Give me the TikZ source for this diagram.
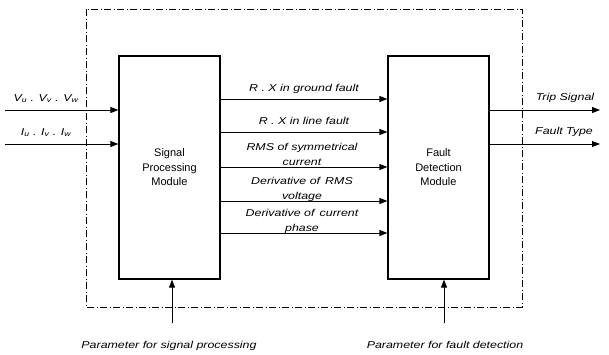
\documentclass[tikz,border=0pt]{standalone}
\usepackage{fontspec}
\setmainfont{Liberation Sans}
\newfontfamily\lblfont[FakeStretch=1.24]{Liberation Sans}
\usetikzlibrary{arrows.meta}
\tikzset{
  module/.style={draw, line width=1.2pt, minimum width=101pt, minimum height=223pt,
    align=center, font=\fontsize{11}{14.5}\selectfont, inner sep=0pt},
  arr/.style={line width=0.9pt, -{Triangle[length=8pt,width=6pt]}},
  frame/.style={line width=0.9pt, dash pattern=on 7pt off 2.5pt on 1pt off 2.5pt},
  lbl/.style={font=\lblfont\itshape\fontsize{10}{15}\selectfont, inner sep=0pt, align=center},
  lbltwo/.style={lbl, anchor=south, text depth=0pt},
}
\begin{document}
\begin{tikzpicture}[x=1pt,y=-1pt]
\useasboundingbox (0,0) rectangle (609,354);

% enclosing system boundary
\draw[frame] (86,9) rectangle (522,307);

% the two modules
\node[module] (spm) at (169.5,167.5) {Signal\\Processing\\Module};
\node[module] (fdm) at (438.5,167.5) {Fault\\Detection\\Module};

% measured inputs
\coordinate (vin) at (5,110);
\coordinate (iin) at (5,144);
\draw[arr] (vin) -- (vin -| spm.west);
\draw[arr] (iin) -- (iin -| spm.west);
\node[lbl, anchor=base] (vlab) at (46,101) {V\textsubscript{u} . V\textsubscript{v} . V\textsubscript{w}};
\node[lbl, anchor=base] (ilab) at (46,135) {I\textsubscript{u} . I\textsubscript{v} . I\textsubscript{w}};

% features passed between the modules
\foreach \yy/\nm in {99/a,132/b,167/c,201/d,233/e}{
  \coordinate (s\nm) at (spm.east |- 0,\yy);
  \draw[arr] (s\nm) -- (s\nm -| fdm.west);
}
\node[lbl, anchor=base] (la) at (304,91) {R . X in ground fault};
\node[lbl, anchor=base] (lb) at (304,124) {R . X in line fault};
\node[lbltwo] (lc) at (302,166) {RMS of symmetrical\\current};
\node[lbltwo] (ld) at (302,200) {Derivative of\, RMS\\voltage};
\node[lbltwo] (le) at (302,232) {Derivative of\, current\\phase};

% outputs
\coordinate (tout) at (600,110);
\coordinate (fout) at (600,144);
\draw[arr] (fdm.east |- tout) -- (tout);
\draw[arr] (fdm.east |- fout) -- (fout);
\node[lbl, anchor=base] (tlab) at (565,100) {Trip Signal};
\node[lbl, anchor=base] (flab) at (564,134) {Fault Type};

% parameter inputs
\coordinate (psp) at (172,323);
\coordinate (pfd) at (444,323);
\draw[arr] (psp) -- (psp |- spm.south);
\draw[arr] (pfd) -- (pfd |- fdm.south);
\node[lbl, anchor=base] (plab1) at (169,348) {Parameter for signal processing};
\node[lbl, anchor=base] (plab2) at (445,348) {Parameter for fault detection};
\end{tikzpicture}
\end{document}
